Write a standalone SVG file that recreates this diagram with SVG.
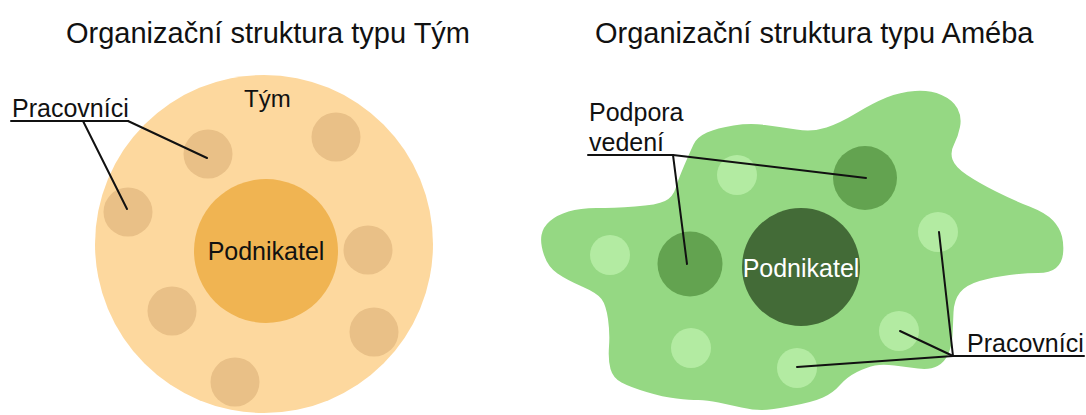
<svg xmlns="http://www.w3.org/2000/svg" width="1086" height="415" viewBox="0 0 1086 415">
<style>
text{font-family:"Liberation Sans",Arial,sans-serif;fill:#111}
.title{font-size:29px}
.lbl{font-size:25px}
.conn line{stroke:#111;stroke-width:2;stroke-linecap:round}
.tan{fill:#E9C087}
.lg{fill:#B3EBA2}
.dg{fill:#63A350}
</style>
<rect width="1086" height="415" fill="#ffffff"/>
<text class="title" x="66" y="43">Organizační struktura typu Tým</text>
<text class="title" x="595" y="43">Organizační struktura typu Améba</text>

<g id="tym">
<circle cx="264" cy="244" r="169" fill="#FDD89E"/>
<text class="lbl" x="244" y="107" style="font-size:24px">Tým</text>
</g>
<g id="pracovnici-tym">
<circle class="tan" cx="208" cy="154" r="24.5"/>
<circle class="tan" cx="336" cy="137" r="24.5"/>
<circle class="tan" cx="128" cy="212" r="24.5"/>
<circle class="tan" cx="368" cy="250" r="24.5"/>
<circle class="tan" cx="172" cy="311" r="24.5"/>
<circle class="tan" cx="374" cy="332" r="24.5"/>
<circle class="tan" cx="235" cy="382" r="24.5"/>
</g>
<g id="podnikatel-tym">
<circle cx="266" cy="251" r="72" fill="#F0B452"/>
<text class="lbl" x="266" y="260" text-anchor="middle">Podnikatel</text>
</g>
<g id="label-pracovnici-tym">
<text class="lbl" x="12" y="117">Pracovníci</text>
</g>

<g id="ameba">
<path fill="#95D883" d="M684,166 Q690,152 693.5,144.5 Q697,137 707,132.5 Q717,128 733.5,125.5 Q750,123 765,125 Q780,127 796.5,129.5 Q813,132 826.5,127.5 Q840,123 856.5,113 Q873,103 886.5,97.5 Q900,92 915,91 Q930,90 941.5,95 Q953,100 957.5,108.5 Q962,117 960,127 Q958,137 954,144.5 Q950,152 952.5,159.5 Q955,167 967,175 Q979,183 996,191.5 Q1013,200 1029.5,206.5 Q1046,213 1053,220.5 Q1060,228 1062,236.5 Q1064,245 1063,254 Q1062,263 1056,268 Q1050,273 1038,273 Q1026,273 1009.5,275 Q993,277 979.5,281 Q966,285 960,292.5 Q954,300 953.5,312.5 Q953,325 952.5,335 Q952,345 948.5,353.5 Q945,362 937.5,366 Q930,370 918,368.5 Q906,367 894.5,365.5 Q883,364 875,365.5 Q867,367 857,372 Q847,377 840,385 Q833,393 823,397.5 Q813,402 791.5,406 Q770,410 761.5,410 Q753,410 741.5,407.5 Q730,405 718.5,402.5 Q707,400 698.5,400 Q690,400 676.5,398.5 Q663,397 646.5,392 Q630,387 621.5,382.5 Q613,378 610.5,369 Q608,360 609,346.5 Q610,333 608,319 Q606,305 601.5,299 Q597,293 582,286.5 Q567,280 557.5,273.5 Q548,267 544,255 Q540,243 541.5,235 Q543,227 550,221 Q557,215 568.5,211.5 Q580,208 596.5,208 Q613,208 635,206.5 Q657,205 665,201 Q673,197 675.5,188.5 Q678,180 684,166 Z"/>
</g>
<g id="pracovnici-ameba">
<circle class="lg" cx="737" cy="175" r="20"/>
<circle class="lg" cx="610" cy="255" r="20"/>
<circle class="lg" cx="691" cy="348" r="20"/>
<circle class="lg" cx="797" cy="368" r="20"/>
<circle class="lg" cx="938" cy="232" r="20"/>
<circle class="lg" cx="899" cy="331" r="20"/>
</g>
<g id="podpora-vedeni">
<circle class="dg" cx="690" cy="264" r="32.5"/>
<circle class="dg" cx="865" cy="178" r="32"/>
</g>
<g id="podnikatel-ameba">
<circle cx="801" cy="267" r="59" fill="#436B37"/>
<text class="lbl" x="801" y="277" text-anchor="middle" style="fill:#ffffff">Podnikatel</text>
</g>
<g id="label-podpora">
<text class="lbl" x="589" y="121">Podpora</text>
<text class="lbl" x="589" y="151">vedení</text>
</g>
<g id="label-pracovnici-ameba">
<text class="lbl" x="967" y="352">Pracovníci</text>
</g>

<g id="connectors" class="conn">
<line x1="11" y1="121" x2="128" y2="121"/>
<line x1="128" y1="121" x2="207" y2="158"/>
<line x1="83" y1="121" x2="127" y2="209"/>
<line x1="588" y1="155" x2="673" y2="155"/>
<line x1="673" y1="155" x2="866" y2="178"/>
<line x1="673" y1="155" x2="687" y2="264"/>
<line x1="953" y1="356" x2="1084" y2="356"/>
<line x1="953" y1="356" x2="939" y2="232"/>
<line x1="953" y1="356" x2="900" y2="331"/>
<line x1="953" y1="356" x2="797" y2="367"/>
</g>
</svg>
